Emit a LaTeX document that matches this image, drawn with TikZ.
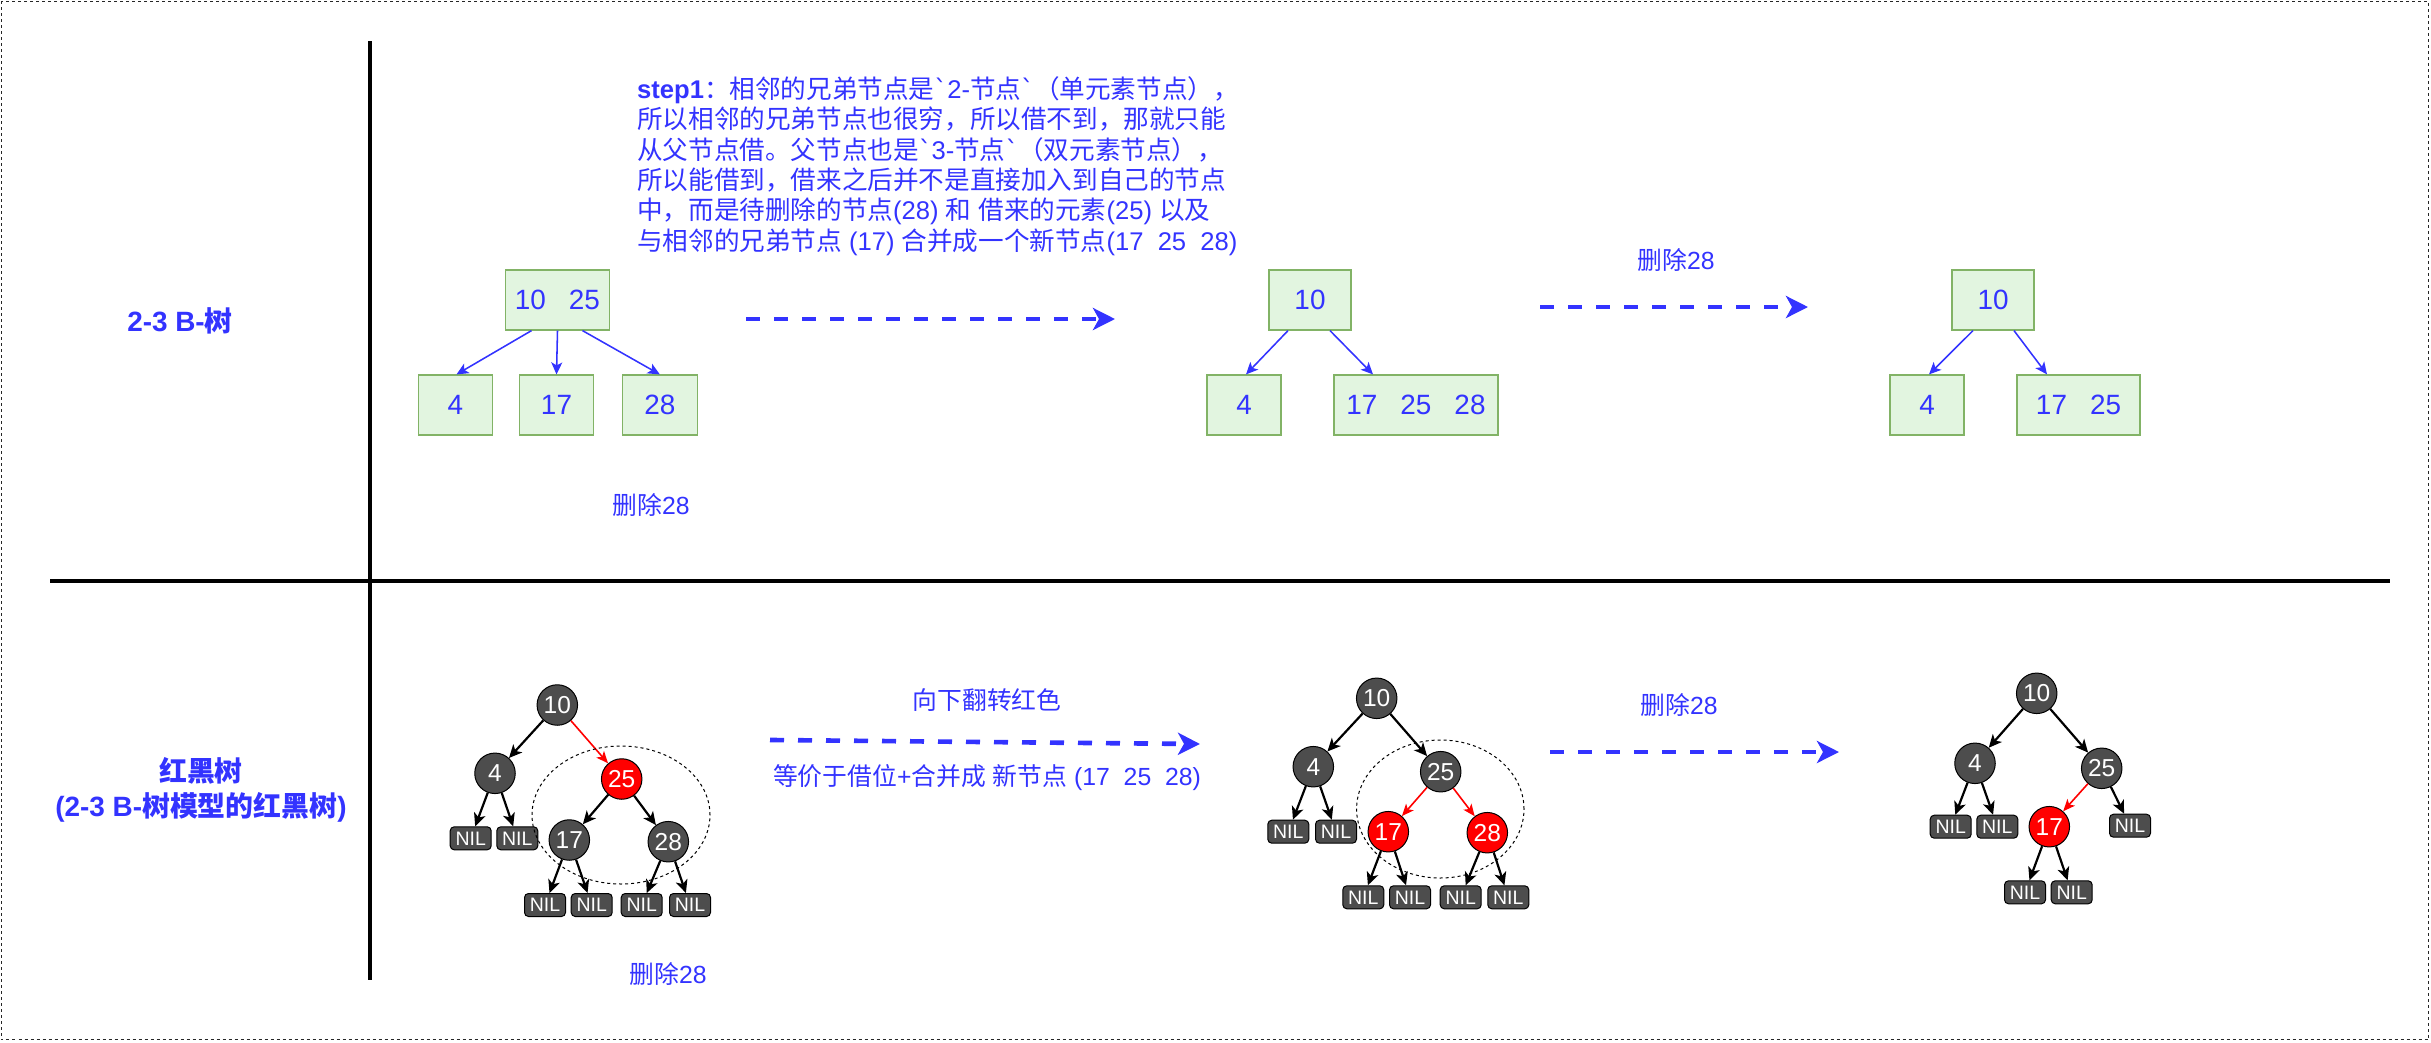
\documentclass[tikz,border=0pt]{standalone}
\usepackage{fontspec}
\setmainfont{Noto Sans CJK SC}
\newfontfamily\arfont{Liberation Sans}
\newfontfamily\djvfont{DejaVu Sans}
\usetikzlibrary{arrows.meta}
\definecolor{tblue}{HTML}{3333FF}
\definecolor{gfill}{HTML}{E2F5E0}
\definecolor{gline}{HTML}{82B366}
\definecolor{dgray}{HTML}{4D4D4D}
\definecolor{rred}{HTML}{FF0000}
\newcommand\lat[1]{{\arfont #1}}
\newcommand\bqt{{\djvfont ˋ}}
\begin{document}
\begin{tikzpicture}[x=1pt,y=-1pt,
  bbox/.style={draw=gline, fill=gfill, line width=1.2pt, minimum height=60pt, inner sep=0pt, text=tblue, font={\arfont\fontsize{27.9}{32}\selectfont}},
  rbk/.style={circle, draw=black, line width=1pt, fill=dgray, minimum size=40.5pt, inner sep=0pt, text=white, font={\arfont\fontsize{24.5}{28}\selectfont}},
  rbr/.style={rbk, fill=rred},
  nilbox/.style={rectangle, rounded corners=4pt, draw=black, line width=1pt, fill=dgray, minimum width=41pt, minimum height=23pt, inner sep=0pt, text=white, font={\arfont\fontsize{19.5}{22}\selectfont}},
  tarrow/.style={draw=tblue, line width=1.55pt, -{Stealth[length=12pt,width=11pt,inset=3pt]}},
  karrow/.style={draw=black, line width=2.2pt, -{Stealth[length=13pt,width=12pt,inset=3.5pt]}},
  rarrow/.style={draw=rred, line width=1.6pt, -{Stealth[length=12pt,width=10pt,inset=3pt]}},
  darrow/.style={draw=tblue, line width=4.65pt, dash pattern=on 14pt off 14pt, -{Stealth[length=22pt,width=22pt,inset=6pt]}},
  sepline/.style={draw=black, line width=3.1pt},
  ell/.style={draw=black, line width=1pt, dash pattern=on 3pt off 3pt},
  lbl/.style={text=tblue, font={\fontsize{24.8}{30}\selectfont}, inner sep=0pt},
  steptext/.style={text=tblue, font={\fontsize{25.6}{30.3}\selectfont}, inner sep=0pt, align=left},
  blbl/.style={text=tblue, font={\bfseries\fontsize{27.9}{35}\selectfont}, inner sep=0pt, align=center}
]
\useasboundingbox (0,0) rectangle (2431,1042);
% outer frame
\draw[line width=1pt, draw=black!85, dash pattern=on 3pt off 3pt] (1,1) rectangle (2428.5,1039.5);
% separators
\coordinate (vt) at (370,41); \coordinate (vb) at (370,980);
\coordinate (hl) at (50,581); \coordinate (hr) at (2390,581);
\draw[sepline] (vt) -- (vb);
\draw[sepline] (hl) -- (hr);
% row labels
\node[blbl] (lab1) at (180,321) {\lat{2-3 B-}树};
\node[blbl] (lab2) at (201,790) {红黑树\\\lat{(2-3 B-}树模型的红黑树\lat{)}};
% step text
\node[steptext, anchor=west] (step) at (637,166) {\lat{\bfseries step1}：相邻的兄弟节点是\bqt\lat{2-}节点\bqt（单元素节点），\\所以相邻的兄弟节点也很穷，所以借不到，那就只能\\从父节点借。父节点也是\bqt\lat{3-}节点\bqt（双元素节点），\\所以能借到，借来之后并不是直接加入到自己的节点\\中，而是待删除的节点\lat{(28) }和\lat{ }借来的元素\lat{(25) }以及\\与相邻的兄弟节点\lat{ (17) }合并成一个新节点\lat{(17\ \ 25\ \ 28)}};
% top tree 1
\node[bbox, minimum width=104pt] (t1r) at (557.5,300) {10\hspace{23pt}25};
\node[bbox, minimum width=74.5pt] (t1a) at (455.5,405) {4};
\node[bbox, minimum width=74.5pt] (t1b) at (556.5,405) {17};
\node[bbox, minimum width=75pt] (t1c) at (659.8,405) {28};
\draw[tarrow] ([xshift=-26pt]t1r.south) -- ([xshift=1pt]t1a.north);
\draw[tarrow] (t1r.south) -- (t1b.north);
\draw[tarrow] ([xshift=25pt]t1r.south) -- (t1c.north);
% top tree 2
\node[bbox, minimum width=82pt] (t2r) at (1310,300) {10};
\node[bbox, minimum width=74pt] (t2a) at (1244,405) {4};
\node[bbox, minimum width=164pt] (t2b) at (1416,405) {17\hspace{23pt}25\hspace{23pt}28};
\draw[tarrow] ([xshift=-22pt]t2r.south) -- ([xshift=2pt]t2a.north);
\draw[tarrow] ([xshift=20pt]t2r.south) -- ([xshift=-43pt]t2b.north);
% top tree 3
\node[bbox, minimum width=82pt] (t3r) at (1993,300) {10};
\node[bbox, minimum width=74pt] (t3a) at (1927,405) {4};
\node[bbox, minimum width=123pt] (t3b) at (2078.5,405) {17\hspace{23pt}25};
\draw[tarrow] ([xshift=-20pt]t3r.south) -- ([xshift=2pt]t3a.north);
\draw[tarrow] ([xshift=21pt]t3r.south) -- ([xshift=-31.5pt]t3b.north);
% dashed arrows
\coordinate (d1s) at (746,319); \coordinate (d1e) at (1115,319);
\coordinate (d2s) at (1540,307); \coordinate (d2e) at (1808,307);
\coordinate (d3s) at (770,740); \coordinate (d3e) at (1200,744);
\coordinate (d4s) at (1550,752); \coordinate (d4e) at (1839,752);
\draw[darrow] (d1s) -- (d1e);
\draw[darrow] (d2s) -- (d2e);
\draw[darrow] (d3s) -- (d3e);
\draw[darrow] (d4s) -- (d4e);
% labels
\node[lbl] (del1) at (651,505) {删除\lat{28}};
\node[lbl] (del2) at (1676,260) {删除\lat{28}};
\node[lbl] (flip) at (987,700) {向下翻转红色};
\node[lbl] (eqv) at (987,778) {等价于借位\lat{+}合并成\lat{ }新节点\lat{ (17\ \ 25\ \ 28)}};
\node[lbl] (del3) at (1679,705) {删除\lat{28}};
\node[lbl] (del4) at (668,974) {删除\lat{28}};
% RB tree A
\node[rbk] (A10) at (557.3,705) {10};
\node[rbk] (A4) at (495,773.3) {4};
\node[rbr] (A25) at (621.7,779) {25};
\node[rbk] (A17) at (569.3,840) {17};
\node[rbk] (A28) at (668.3,841.7) {28};
\node[nilbox] (An1) at (470.7,838.3) {NIL};
\node[nilbox] (An2) at (517.3,838.3) {NIL};
\node[nilbox] (An3) at (545,905) {NIL};
\node[nilbox] (An4) at (591.7,905) {NIL};
\node[nilbox] (An5) at (641.7,905) {NIL};
\node[nilbox] (An6) at (690,905) {NIL};
\foreach \a/\b in {A10/A4, A4/An1, A4/An2, A25/A17, A25/A28, A17/An3, A17/An4, A28/An5, A28/An6}
  \draw[karrow] (\a) -- (\b);
\draw[rarrow] (A10) -- (A25);
\draw[ell] (621,815) ellipse [x radius=89pt, y radius=69pt];
% RB tree B
\node[rbk] (B10) at (1376.7,698.3) {10};
\node[rbk] (B4) at (1313.3,766.7) {4};
\node[rbk] (B25) at (1440.7,771.7) {25};
\node[rbr] (B17) at (1388.3,831.7) {17};
\node[rbr] (B28) at (1487.3,832.7) {28};
\node[nilbox] (Bn1) at (1288.3,831.7) {NIL};
\node[nilbox] (Bn2) at (1336,831.7) {NIL};
\node[nilbox] (Bn3) at (1363.3,897.3) {NIL};
\node[nilbox] (Bn4) at (1410,897.3) {NIL};
\node[nilbox] (Bn5) at (1460.7,897.3) {NIL};
\node[nilbox] (Bn6) at (1508.3,897.3) {NIL};
\foreach \a/\b in {B10/B4, B10/B25, B4/Bn1, B4/Bn2, B17/Bn3, B17/Bn4, B28/Bn5, B28/Bn6}
  \draw[karrow] (\a) -- (\b);
\draw[rarrow] (B25) -- (B17);
\draw[rarrow] (B25) -- (B28);
\draw[ell] (1440.3,809) ellipse [x radius=83.7pt, y radius=69pt];
% RB tree C
\node[rbk] (C10) at (2036.7,693.3) {10};
\node[rbk] (C4) at (1975,763.3) {4};
\node[rbk] (C25) at (2101.7,768.3) {25};
\node[rbr] (C17) at (2049.3,826.7) {17};
\node[nilbox] (Cn1) at (1950.7,826.7) {NIL};
\node[nilbox] (Cn2) at (1997.3,826.7) {NIL};
\node[nilbox] (Cn3) at (2130,825.7) {NIL};
\node[nilbox] (Cn4) at (2025,892.3) {NIL};
\node[nilbox] (Cn5) at (2071.7,892.3) {NIL};
\foreach \a/\b in {C10/C4, C10/C25, C4/Cn1, C4/Cn2, C25/Cn3, C17/Cn4, C17/Cn5}
  \draw[karrow] (\a) -- (\b);
\draw[rarrow] (C25) -- (C17);
\end{tikzpicture}
\end{document}
